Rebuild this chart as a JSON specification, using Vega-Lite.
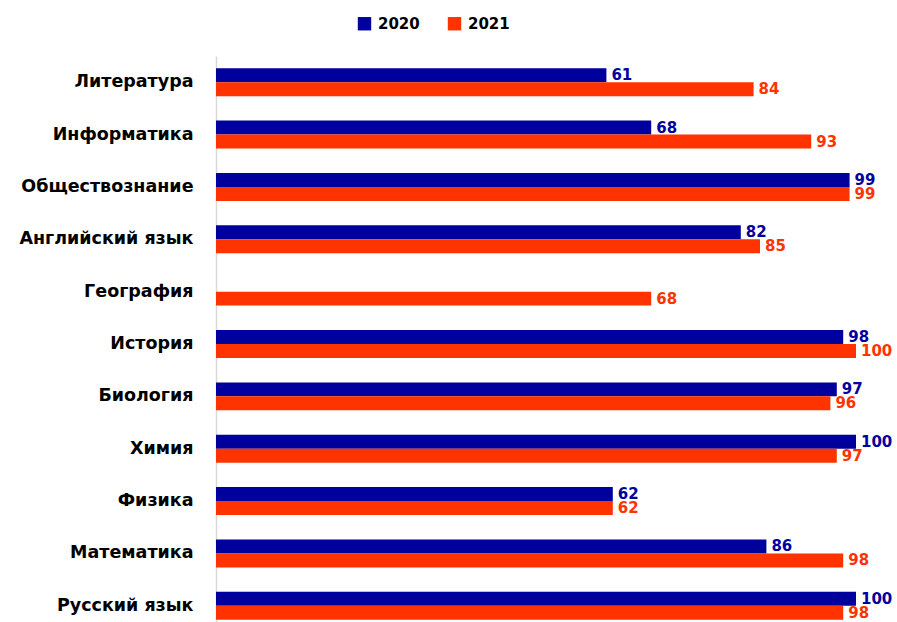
{
  "$schema": "https://vega.github.io/schema/vega-lite/v6.json",
  "autosize": "none",
  "padding": {"left": 216, "top": 56, "right": 41, "bottom": 0},
  "width": 640,
  "height": 576,
  "background": "white",
  "data": {
    "values": [
      {"subject": "Литература", "year": "2020", "value": 61},
      {"subject": "Литература", "year": "2021", "value": 84},
      {"subject": "Информатика", "year": "2020", "value": 68},
      {"subject": "Информатика", "year": "2021", "value": 93},
      {"subject": "Обществознание", "year": "2020", "value": 99},
      {"subject": "Обществознание", "year": "2021", "value": 99},
      {"subject": "Английский язык", "year": "2020", "value": 82},
      {"subject": "Английский язык", "year": "2021", "value": 85},
      {"subject": "География", "year": "2021", "value": 68},
      {"subject": "История", "year": "2020", "value": 98},
      {"subject": "История", "year": "2021", "value": 100},
      {"subject": "Биология", "year": "2020", "value": 97},
      {"subject": "Биология", "year": "2021", "value": 96},
      {"subject": "Химия", "year": "2020", "value": 100},
      {"subject": "Химия", "year": "2021", "value": 97},
      {"subject": "Физика", "year": "2020", "value": 62},
      {"subject": "Физика", "year": "2021", "value": 62},
      {"subject": "Математика\u00a0", "year": "2020", "value": 86},
      {"subject": "Математика\u00a0", "year": "2021", "value": 98},
      {"subject": "Русский язык", "year": "2020", "value": 100},
      {"subject": "Русский язык", "year": "2021", "value": 98}
    ]
  },
  "encoding": {
    "y": {
      "field": "subject",
      "type": "nominal",
      "sort": ["Литература", "Информатика", "Обществознание", "Английский язык", "География", "История", "Биология", "Химия", "Физика", "Математика\u00a0", "Русский язык"],
      "scale": {"paddingInner": 0.466, "paddingOuter": 0.233},
      "axis": {
        "title": null,
        "ticks": false,
        "domainColor": "#d9d9d9",
        "domainWidth": 1.5,
        "labelFont": "DejaVu Sans",
        "labelFontSize": 17.5,
        "labelFontWeight": "bold",
        "labelColor": "#000000",
        "labelPadding": 23,
        "labelLimit": 300
      }
    },
    "yOffset": {"field": "year", "type": "nominal", "sort": ["2020", "2021"], "scale": {"domain": ["2020", "2021"], "paddingInner": 0, "paddingOuter": 0}},
    "x": {
      "field": "value",
      "type": "quantitative",
      "scale": {"domain": [0, 100], "nice": false, "zero": true},
      "axis": null
    },
    "color": {
      "field": "year",
      "type": "nominal",
      "scale": {"domain": ["2020", "2021"], "range": ["#00009c", "#ff3300"]},
      "legend": {
        "title": null,
        "orient": "none",
        "direction": "horizontal",
        "legendX": 141,
        "legendY": -40,
        "symbolType": "square",
        "symbolSize": 180,
        "symbolStrokeWidth": 0,
        "labelFont": "DejaVu Sans",
        "labelFontSize": 15,
        "labelFontWeight": "bold",
        "labelColor": "#000000",
        "columnPadding": 27,
        "labelOffset": 6
      }
    }
  },
  "layer": [
    {"mark": {"type": "bar"}},
    {
      "mark": {"type": "text", "align": "left", "baseline": "middle", "dx": 5, "font": "DejaVu Sans", "fontSize": 15, "fontWeight": "bold"},
      "encoding": {"text": {"field": "value", "type": "quantitative"}}
    }
  ],
  "config": {"view": {"stroke": null}}
}
